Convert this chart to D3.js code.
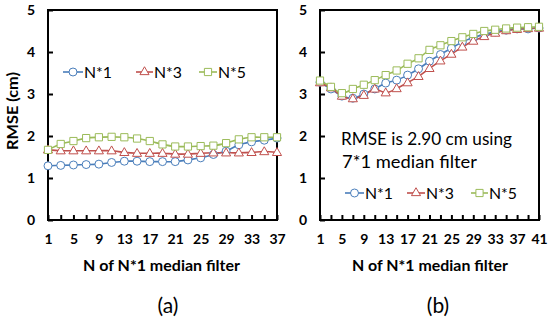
<!DOCTYPE html>
<html>
<head>
<meta charset="utf-8">
<script src="https://cdn.jsdelivr.net/npm/d3@7"></script>
<style>
  html, body { margin: 0; padding: 0; background: #fff; }
  svg { display: block; }
  text { font-family: Lato, "Open Sans", "Liberation Sans", sans-serif; }
</style>
</head>
<body>
<svg id="chart" width="550" height="322"></svg>
<script>
// ---------- data ----------
const nA = [1,3,5,7,9,11,13,15,17,19,21,23,25,27,29,31,33,35,37];
const a_N1 = [1.29,1.30,1.31,1.32,1.33,1.37,1.40,1.40,1.39,1.39,1.39,1.43,1.48,1.56,1.64,1.79,1.86,1.90,1.95];
const a_N3 = [1.67,1.65,1.65,1.65,1.65,1.65,1.61,1.59,1.59,1.59,1.57,1.57,1.59,1.60,1.60,1.60,1.61,1.63,1.61];
const a_N5 = [1.67,1.81,1.88,1.95,1.97,1.98,1.97,1.94,1.88,1.80,1.75,1.75,1.76,1.77,1.83,1.92,1.97,1.97,1.97];

const nB = [1,3,5,7,9,11,13,15,17,19,21,23,25,27,29,31,33,35,37,39,41];
const b_N1 = [3.28,3.12,2.95,2.90,3.00,3.12,3.26,3.33,3.45,3.60,3.78,3.94,4.09,4.24,4.34,4.42,4.48,4.52,4.55,4.55,4.57];
const b_N3 = [3.27,3.15,2.95,2.89,2.97,3.12,3.03,3.13,3.27,3.42,3.61,3.79,3.95,4.12,4.26,4.37,4.45,4.51,4.54,4.56,4.57];
const b_N5 = [3.32,3.17,3.02,3.12,3.22,3.33,3.45,3.56,3.72,3.85,4.05,4.16,4.26,4.35,4.43,4.50,4.53,4.56,4.58,4.59,4.60];

const xLabelsA = ["1","5","9","13","17","21","25","29","33","37"];
const xLabelsB = ["1","5","9","13","17","21","25","29","33","37","41"];
const yTicks = [0,1,2,3,4,5];
const seriesNames = ["N*1","N*3","N*5"];
const colors = ["#4a7ebb","#c0504d","#9bbb59"];
const markers = ["circle","triangle","square"];

// ---------- drawing ----------
const svg = d3.select("#chart");

function fit(sel, w) {
  sel.attr("textLength", w).attr("lengthAdjust", "spacingAndGlyphs");
  return sel;
}

function markerPath(type) {
  if (type === "circle") return d3.symbol(d3.symbolCircle, 50)();
  if (type === "triangle") return d3.symbol(d3.symbolTriangle, 36)();
  return d3.symbol(d3.symbolSquare, 52)();
}

function panel(cfg) {
  const g = svg.append("g");
  const x = d3.scaleLinear().domain(cfg.domain).range(cfg.xr);
  const y = d3.scaleLinear().domain([0,5]).range([220,10]);

  // x axis
  const xa = d3.axisBottom(x).tickValues(cfg.cats).tickSize(-5).tickPadding(14)
    .tickFormat(d => cfg.labels.includes(String(d)) ? String(d) : "");
  const gx = g.append("g").attr("transform", "translate(0,220)").call(xa);
  gx.select(".domain").remove();
  gx.selectAll(".tick line").attr("stroke", "#000").attr("stroke-width", 2);
  gx.selectAll("text").attr("font-size", 14).attr("font-weight", "bold").attr("fill", "#000");

  // y axis
  const ya = d3.axisLeft(y).tickValues(yTicks).tickSize(-5).tickPadding(13).tickFormat(d3.format("d"));
  const gy = g.append("g").attr("transform", `translate(${cfg.xr[0]},0)`).call(ya);
  gy.select(".domain").remove();
  gy.selectAll(".tick line").attr("stroke", "#000").attr("stroke-width", 2);
  gy.selectAll("text").attr("font-size", 14).attr("font-weight", "bold").attr("fill", "#000");

  // frame
  g.append("rect").attr("x", cfg.xr[0]).attr("y", 10)
    .attr("width", cfg.xr[1] - cfg.xr[0]).attr("height", 210)
    .attr("fill", "none").attr("stroke", "#000").attr("stroke-width", 2);

  // series
  const line = d3.line().x((d,i) => x(cfg.cats[i])).y(d => y(d)).curve(d3.curveCatmullRom.alpha(0.5));
  cfg.series.forEach((vals, si) => {
    g.append("path").datum(vals).attr("d", line)
      .attr("fill", "none").attr("stroke", colors[si]).attr("stroke-width", 1.6);
  });
  cfg.series.forEach((vals, si) => {
    g.selectAll(null).data(vals).enter().append("path")
      .attr("d", markerPath(markers[si]))
      .attr("transform", (d,i) => `translate(${x(cfg.cats[i])},${y(d) + (markers[si]==="triangle"?0.5:0)})`)
      .attr("fill", "#fff").attr("stroke", colors[si]).attr("stroke-width", 1);
  });

  // x title
  fit(g.append("text").attr("x", cfg.titleX[0]).attr("y", 271)
    .attr("font-size", 14.5).attr("font-weight", "bold")
    .text("N of N*1 median filter"), cfg.titleX[1] - cfg.titleX[0]);

  // panel label
  g.append("text").attr("x", cfg.labelX).attr("y", 313)
    .attr("text-anchor", "middle").attr("font-size", 21)
    .text(cfg.panelLabel);

  // legend
  cfg.legend.forEach((lg, si) => {
    g.append("line").attr("x1", lg[0]).attr("x2", lg[1]).attr("y1", cfg.legendY).attr("y2", cfg.legendY)
      .attr("stroke", colors[si]).attr("stroke-width", 1.6);
    g.append("path").attr("d", markerPath(markers[si]))
      .attr("transform", `translate(${(lg[0]+lg[1])/2},${cfg.legendY})`)
      .attr("fill", "#fff").attr("stroke", colors[si]).attr("stroke-width", 1);
    fit(g.append("text").attr("x", lg[1] + 1).attr("y", cfg.legendY + 5.5)
      .attr("font-size", 16).text(seriesNames[si]), 28);
  });
  return g;
}

panel({
  domain: [1,37], xr: [48,277], cats: nA, labels: xLabelsA,
  series: [a_N1, a_N3, a_N5], panelLabel: "(a)", labelX: 168, titleX: [83,240],
  legendY: 72, legend: [[63,83],[136,153],[199,217]]
});
const gb = panel({
  domain: [1,41], xr: [320,539], cats: nB, labels: xLabelsB,
  series: [b_N1, b_N3, b_N5], panelLabel: "(b)", labelX: 438, titleX: [352,508],
  legendY: 193, legend: [[345,364],[407,425],[471,488]]
});

// y title (panel a)
fit(svg.append("text").attr("transform", "translate(18,111) rotate(-90)")
  .attr("x", -39).attr("font-size", 15).attr("font-weight", "bold")
  .text("RMSE (cm)"), 78);

// annotation (panel b)
fit(gb.append("text").attr("x", 341).attr("y", 145).attr("font-size", 16.5).text("RMSE is 2.90 cm using"), 171);
fit(gb.append("text").attr("x", 342).attr("y", 168).attr("font-size", 16.5).text("7*1 median filter"), 135);
</script>
</body>
</html>
